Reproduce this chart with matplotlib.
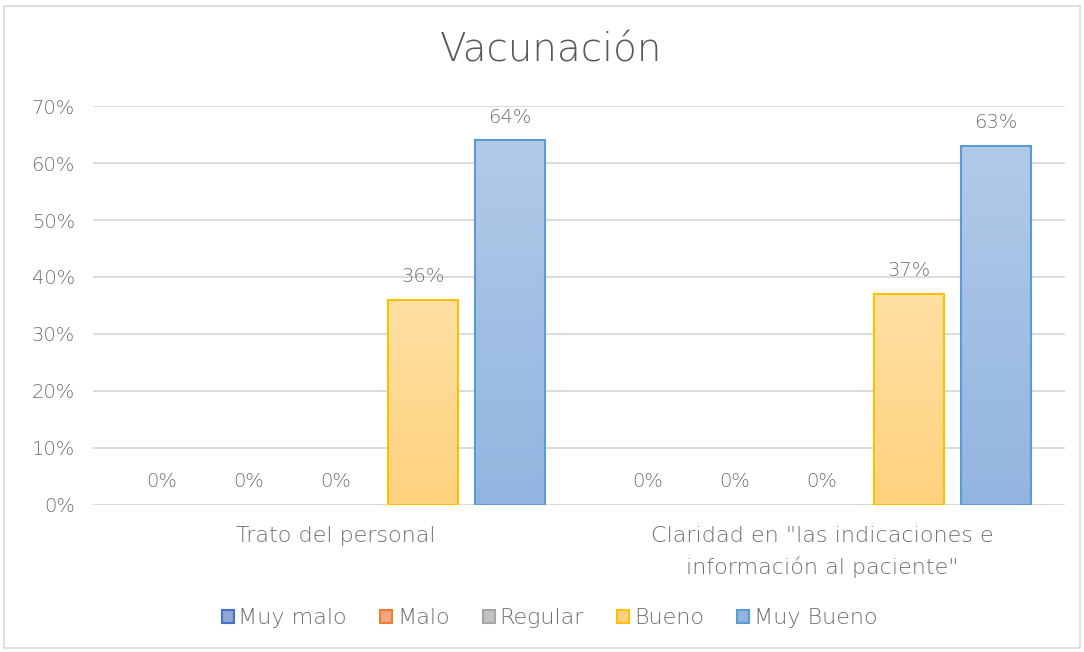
import matplotlib

matplotlib.use("Agg")
import matplotlib.pyplot as plt
import numpy as np
from matplotlib.colors import LinearSegmentedColormap
from matplotlib.patches import Rectangle

plt.rcParams["font.family"] = ["DejaVu Sans"]
plt.rcParams["font.weight"] = "light"

categories = ["Trato del personal", "Claridad en \"las indicaciones e\ninformación al paciente\""]
series_names = ["Muy malo", "Malo", "Regular", "Bueno", "Muy Bueno"]
values = [
    [0.0, 0.0],
    [0.0, 0.0],
    [0.0, 0.0],
    [0.36, 0.37],
    [0.64, 0.63],
]
y_ticks = [0.0, 0.1, 0.2, 0.3, 0.4, 0.5, 0.6, 0.7]

edge_colors = ["#4472C4", "#ED7D31", "#A5A5A5", "#FFC000", "#5B9BD5"]
# gradient (top, bottom) for each series
fills = [
    ("#AFC0E4", "#8EA6D8"),
    ("#F7C1A2", "#F3A77E"),
    ("#D3D3D3", "#C2C2C2"),
    ("#FFE0A3", "#FFD27E"),
    ("#B1CAE8", "#92B5E0"),
]
text_color = "#6F6F6F"

fig = plt.figure(figsize=(10.84, 6.52), dpi=100)
ax = fig.add_axes([0.0858, 0.2255, 0.8967, 0.6119])

x = np.arange(len(categories))
step = 0.179
width = 0.146

for i, (name, vals) in enumerate(zip(series_names, values)):
    offs = (i - 2) * step
    bars = ax.bar(x + offs, vals, width, facecolor="none", edgecolor=edge_colors[i],
                  linewidth=1.5, label=name, zorder=3)
    cmap = LinearSegmentedColormap.from_list(name, [fills[i][1], fills[i][0]])
    for bar, v in zip(bars, vals):
        if v > 0:
            bx, bw = bar.get_x(), bar.get_width()
            grad = np.linspace(0, 1, 100).reshape(-1, 1)
            im = ax.imshow(grad, extent=[bx, bx + bw, 0, v], origin="lower", cmap=cmap,
                           aspect="auto", zorder=2)
            im.set_clip_path(bar)
        else:
            bar.set_linewidth(0)
        ax.text(bar.get_x() + bar.get_width() / 2, v + 0.024, f"{v:.0%}",
                ha="center", va="bottom", fontsize=14, color=text_color, zorder=4)

ax.set_xlim(-0.5, 1.5)
ax.set_ylim(0, 0.7)
ax.set_yticks(y_ticks)
ax.set_yticklabels([f"{t:.0%}" for t in y_ticks])
ax.set_xticks(x)
ax.set_xticklabels(categories, linespacing=1.6)
ax.tick_params(axis="both", length=0, labelsize=14, labelcolor=text_color)
ax.tick_params(axis="x", labelsize=16, pad=15)
ax.tick_params(axis="y", pad=13)
ax.yaxis.grid(True, color="#D9D9D9", linewidth=1.3, zorder=0)
ax.set_axisbelow(True)
for s in ax.spines.values():
    s.set_visible(False)

fig.text(0.508, 0.923, "Vacunación", fontsize=28, color="#595959", ha="center", va="center",
         fontweight="light")

handles = [Rectangle((0, 0), 1, 1, facecolor=fills[i][1], edgecolor=edge_colors[i], linewidth=1.5)
           for i in range(len(series_names))]
fig.legend(handles, series_names, loc="center", bbox_to_anchor=(0.507, 0.052), ncol=5,
           frameon=False, fontsize=16, labelcolor=text_color, handlelength=0.55, handleheight=0.55,
           handletextpad=0.2, columnspacing=1.5)

fig.add_artist(Rectangle((0.004, 0.006), 0.992, 0.985, transform=fig.transFigure,
                         facecolor="none", edgecolor="#D9D9D9", linewidth=1.2))

fig.savefig("out.png")
plt.close(fig)
